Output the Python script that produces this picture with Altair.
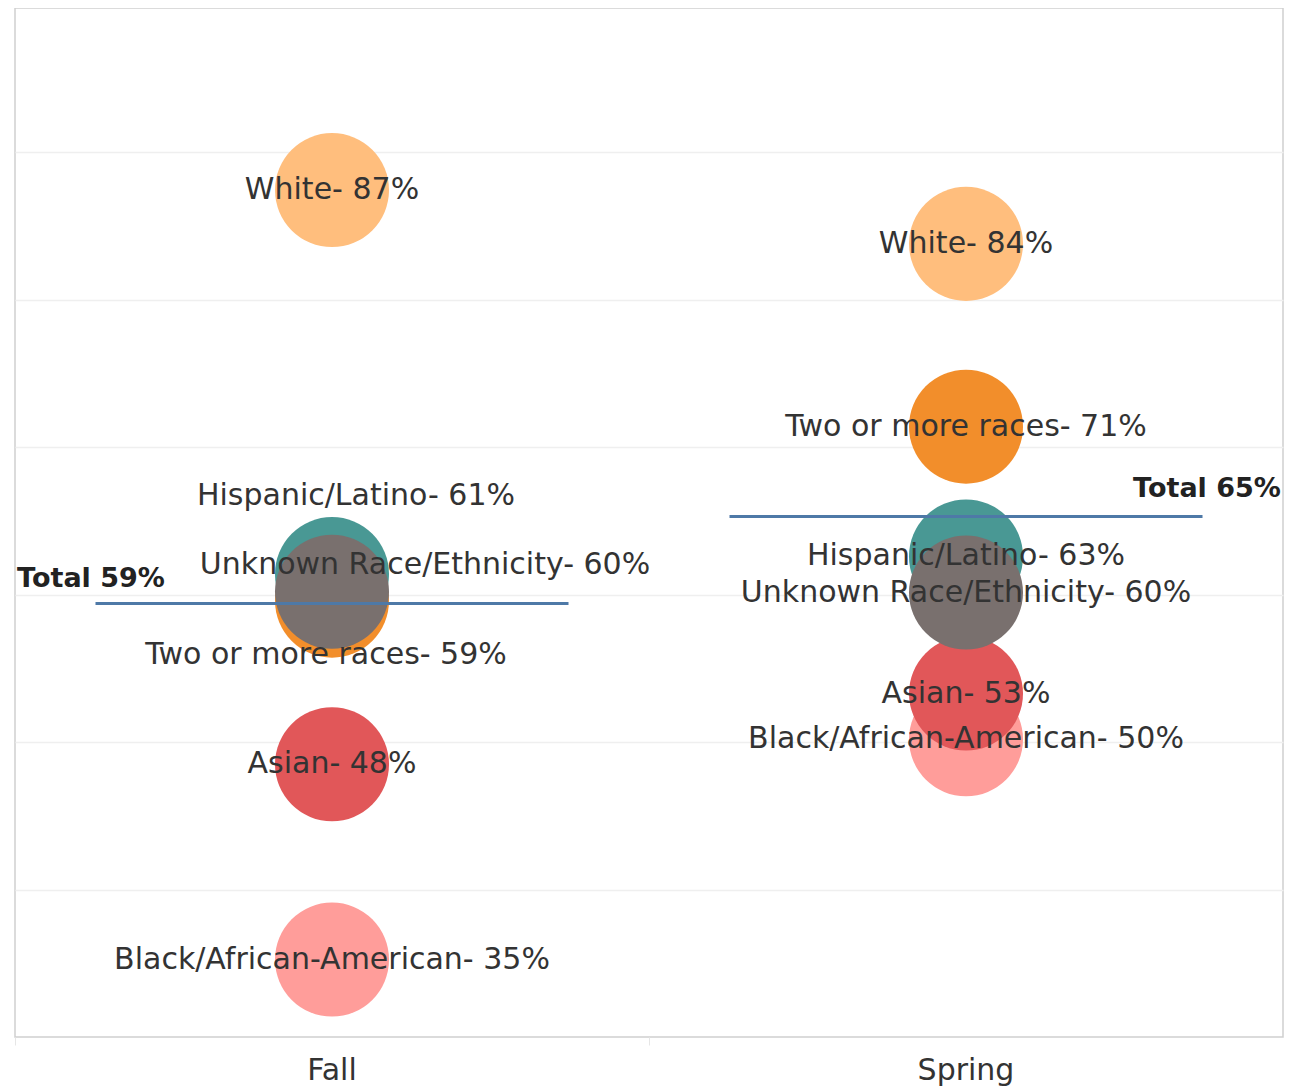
import altair as alt
import pandas as pd

# ---- data ----
terms = ["Fall"] * 6 + ["Spring"] * 6
groups = ["Black/African-American", "Asian", "Two or more races",
          "Hispanic/Latino", "Unknown Race/Ethnicity", "White"] * 2
rates = [35.25, 48.5, 59.6, 61.4, 60.2, 87.45,
         50.2, 53.3, 71.4, 62.6, 60.15, 83.8]
pct_labels = ["35%", "48%", "59%", "61%", "60%", "87%",
              "50%", "53%", "71%", "63%", "60%", "84%"]

total_terms = ["Fall", "Spring"]
total_rates = [59.4, 65.3]
total_labels = ["Total 59%", "Total 65%"]

term_order = ["Fall", "Spring"]
group_order = ["White", "Two or more races", "Hispanic/Latino",
               "Unknown Race/Ethnicity", "Asian", "Black/African-American"]
group_colors = ["#FFBE7D", "#F28E2B", "#499894", "#79706E", "#E15759", "#FF9D9A"]

df = pd.DataFrame({"term": terms, "group": groups, "rate": rates, "pct": pct_labels})
df["label"] = df["group"] + "- " + df["pct"]
totals = pd.DataFrame({"term": total_terms, "rate": total_rates, "label": total_labels})

FONT = "DejaVu Sans"
TXT = "#333333"

x_enc = alt.X("term:N", sort=term_order,
              scale=alt.Scale(domain=term_order, paddingInner=0, paddingOuter=0),
              axis=alt.Axis(title=None, labelAngle=0, labelFont=FONT, labelFontSize=30,
                            labelColor=TXT, labelPadding=10, domain=False,
                            ticks=True, tickSize=8, tickColor="#e6e6e6",
                            bandPosition=0, grid=False))
y_enc = alt.Y("rate:Q",
              scale=alt.Scale(domain=[30, 99.8], nice=False, zero=False),
              axis=alt.Axis(title=None, labels=False, ticks=False, domain=False,
                            grid=True, gridColor="#efefef", gridWidth=1.5,
                            values=[40, 50, 60, 70, 80, 90]))

base = alt.Chart(df)

circles = base.mark_circle(size=13000, opacity=1).encode(
    x=x_enc, y=y_enc,
    color=alt.Color("group:N", scale=alt.Scale(domain=group_order, range=group_colors),
                    legend=None),
)

special = ["Hispanic/Latino", "Unknown Race/Ethnicity", "Two or more races"]
is_special = "datum.term == 'Fall' && indexof(%s, datum.group) >= 0" % str(special)

text_main = base.transform_filter("!(" + is_special + ")").mark_text(
    font=FONT, fontSize=30, color=TXT, baseline="middle", align="center"
).encode(x=x_enc, y=y_enc, text="label:N")


def fall_label(group, dx, dy):
    return base.transform_filter(
        "datum.term == 'Fall' && datum.group == '%s'" % group
    ).mark_text(font=FONT, fontSize=30, color=TXT, baseline="middle",
                align="center", dx=dx, dy=dy).encode(x=x_enc, y=y_enc, text="label:N")


lab_hisp = fall_label("Hispanic/Latino", 24, -78)
lab_unk = fall_label("Unknown Race/Ethnicity", 93, -27)
lab_two = fall_label("Two or more races", -6, 54)

tbase = alt.Chart(totals)
total_lines = tbase.mark_tick(size=473, thickness=3, color="#4E79A7", opacity=1).encode(
    x=x_enc, y=y_enc)

total_fall = tbase.transform_filter("datum.term == 'Fall'").mark_text(
    font=FONT, fontSize=27, fontWeight="bold", color="#222222", baseline="middle",
    align="center", dx=-241, dy=-25).encode(x=x_enc, y=y_enc, text="label:N")
total_spring = tbase.transform_filter("datum.term == 'Spring'").mark_text(
    font=FONT, fontSize=27, fontWeight="bold", color="#222222", baseline="middle",
    align="center", dx=241, dy=-28).encode(x=x_enc, y=y_enc, text="label:N")

chart = alt.layer(
    circles, total_lines, text_main, lab_hisp, lab_unk, lab_two, total_fall, total_spring
).properties(
    width=1268, height=1029,
    padding={"left": 6, "top": 0, "right": 5, "bottom": 5},
    background="white",
).configure_view(
    stroke="#d0d0d0", strokeWidth=1.5
)

chart.save("out.html", embed_options={"renderer": "svg", "actions": False})
